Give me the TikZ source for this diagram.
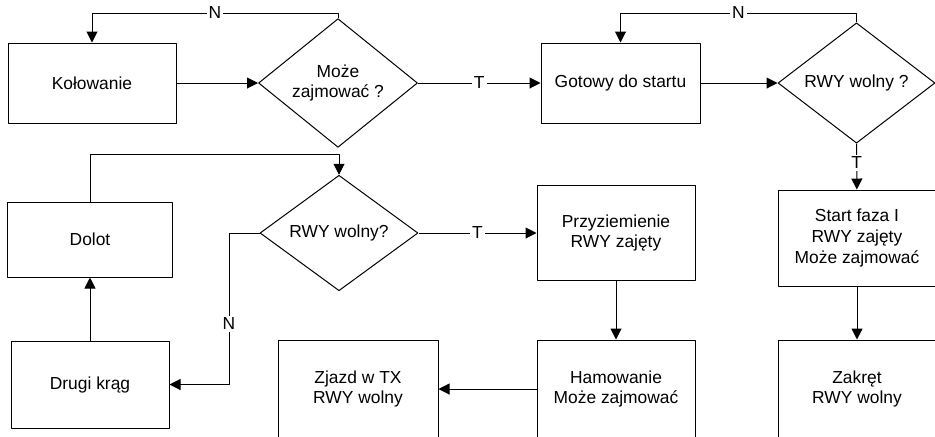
\documentclass[tikz,border=0pt]{standalone}
\usepackage{fontspec}
\setmainfont{Liberation Sans}
\usetikzlibrary{shapes.geometric,arrows.meta}
\begin{document}
\begin{tikzpicture}[x=0.5pt,y=-0.5pt,line join=round,line width=0.5pt,>={Triangle[length=5.5pt,width=5.5pt]},
	every node/.style={font=\fontsize{8.7}{10.3}\selectfont},
	box/.style={draw,rectangle,align=center,inner sep=0pt},
	test/.style={draw,diamond,align=center,inner sep=0pt},
	lbl/.style={fill=white,inner sep=1pt}]
	\useasboundingbox (0,0) rectangle (935,436);
	\clip (0,0) rectangle (935,436);
	\path 
	(0,13) coordinate (top)
	(0,154) coordinate (mid)
	(229,0) coordinate (nx)
	;
	\node[box,minimum width=84pt,minimum height=40pt] (kol) at (92,83) {Kołowanie};
	\node[test,minimum width=79.5pt,minimum height=48pt] (q1) at (338,83) {Może\\zajmować ?};
	\node[box,minimum width=79.5pt,minimum height=40pt] (got) at (620.5,83) {Gotowy do startu};
	\node[test,minimum width=78.5pt,minimum height=47pt] (q2) at (856.5,83) {RWY wolny ?};
	\node[box,minimum width=82.5pt,minimum height=37.5pt] (dol) at (90,239.5) {Dolot};
	\node[test,minimum width=79pt,minimum height=48pt] (q3) at (339,233) {RWY wolny?};
	\node[box,minimum width=79pt,minimum height=47.5pt] (prz) at (616,233) {Przyziemienie\\RWY zajęty};
	\node[box,minimum width=79pt,minimum height=48pt] (sta) at (857,238) {Start faza I\\RWY zajęty\\Może zajmować};
	\node[box,minimum width=79pt,minimum height=43.5pt] (dru) at (90,384.5) {Drugi krąg};
	\node[box,minimum width=80pt,minimum height=49pt] (zja) at (358,389) {Zjazd w TX\\RWY wolny};
	\node[box,minimum width=79pt,minimum height=49pt] (ham) at (616,389) {Hamowanie\\Może zajmować};
	\node[box,minimum width=79pt,minimum height=49pt] (zak) at (857,389) {Zakręt\\RWY wolny};
	
	\draw[->] (kol) -- (q1);
	\draw[->] (q1) -- node[lbl]{T} (got);
	\draw[->] (q1.north) -- (q1.north |- top) -| node[lbl,pos=0.25]{N} (kol.north);
	\draw[->] (got) -- (q2);
	\draw[->] (q2.north) -- (q2.north |- top) -| node[lbl,pos=0.25]{N} (got.north);
	\draw[->] (q2) -- node[lbl,pos=0.42]{T} (sta);
	\draw[->] (dol.north) -- (dol.north |- mid) -| (q3.north);
	\draw[->] (q3) -- node[lbl]{T} (prz);
	\draw[->] (q3.west) -| node[lbl,pos=0.8]{N} (nx |- dru.east) -- (dru.east);
	\draw[->] (dru) -- (dol);
	\draw[->] (prz) -- (ham);
	\draw[->] (ham) -- (zja);
	\draw[->] (sta) -- (zak);
\end{tikzpicture}
\end{document}
